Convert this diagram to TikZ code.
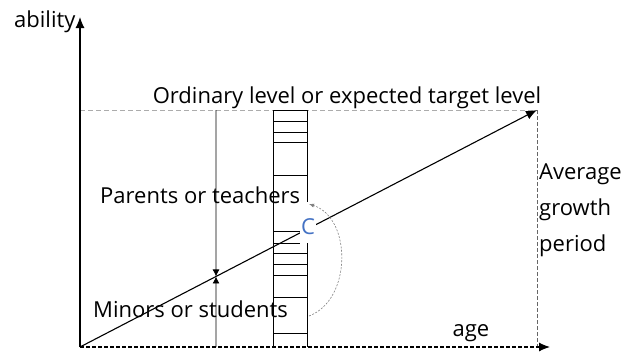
\documentclass[tikz,border=0pt]{standalone}
\usepackage{fontspec}
\setmainfont{Open Sans}
\usetikzlibrary{arrows.meta}
\definecolor{cblue}{RGB}{68,114,196}
\begin{document}
\begin{tikzpicture}[x=1pt,y=-1pt, % pixel units, y runs downwards
  every node/.style={font=\fontsize{22}{36}\selectfont, inner sep=0pt},
  axis/.style={line width=1.1pt, -{Latex[length=11pt,width=9pt]}},
  guide/.style={gray!65, line width=0.9pt, dash pattern=on 5pt off 3pt},
  rung/.style={line width=1pt},
  meet/.style={line width=0.9pt, -{Latex[length=7pt,width=7pt]}},
  turn/.style={gray, line width=0.6pt, dash pattern=on 2pt off 1.5pt, -{Latex[length=5pt,width=4pt]}}]
\useasboundingbox (0,0) rectangle (633,354);

\coordinate (O) at (80,347);   % origin
\coordinate (Y) at (80,17);
\coordinate (X) at (550,347);
\coordinate (T0) at (80,110);
\coordinate (T) at (537,110);  % target level
\coordinate (B) at (537,347);
\coordinate (P) at (216,110);
\coordinate (Q) at (216,347);
\coordinate (M) at (intersection of O--T and P--Q);
\coordinate (s) at (309,316);
\coordinate (e) at (309,204);

\draw[guide] (T0) -- (T);
\draw[gray!80!black, line width=0.8pt, dash pattern=on 4pt off 2pt] (T) -- (B);

% ladder
\draw[rung] (273,110) -- (273,347);
\draw[rung] (307,110) -- (307,202) (307,243) -- (307,347);
\foreach \y in {110,121.5,132.5,142.5,175,253.5,264.5,275,297,333}
  \draw[rung] (273,\y) -- (307,\y);
\draw[rung] (273,231) -- (300,231) (273,243) -- (300,243);

\draw[axis] (O) -- (Y);
\draw[axis, dash pattern=on 4pt off 2pt] (O) -- (X);
\draw[axis] (O) -- (T);
\draw[meet] (P) -- (M);
\draw[meet] (Q) -- (M);
\draw[turn] (s) .. controls (352,300) and (352,218) .. (e);

\node[anchor=base west] (ab) at (14,27) {ability};
\node[anchor=base] (lev) at (347,103) {Ordinary level or expected target level};
\node[anchor=base west] (par) at (100,203) {Parents or teachers};
\node[anchor=base west] (min) at (93,317) {Minors or students};
\node[anchor=base] (age) at (471,336) {age};
\node[anchor=base west, align=left] (avg) at (539,251) {Average\\growth\\period};
\node[fill=white, inner sep=1pt, text=cblue] (c) at (308,227) {C};
\end{tikzpicture}
\end{document}
